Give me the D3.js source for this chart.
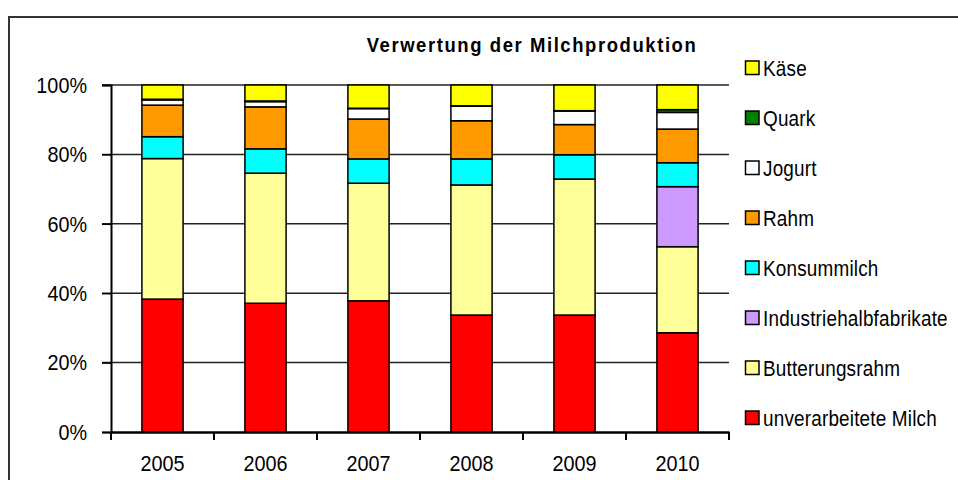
<!DOCTYPE html>
<html>
<head>
<meta charset="utf-8">
<script src="https://cdn.jsdelivr.net/npm/d3@7"></script>
<style>
    body { margin: 0; background: #fff; }
    text { font-family: "Liberation Sans", Arial, sans-serif; fill: #000; }
</style>
</head>
<body>
<div id="chart"></div>
<script>
// Years on the x axis
const years = ["2005", "2006", "2007", "2008", "2009", "2010"];

// Series, bottom of the stack first (share in %)
const seriesNames = ["unverarbeitete Milch", "Butterungsrahm", "Industriehalbfabrikate",
    "Konsummilch", "Rahm", "Jogurt", "Quark", "Käse"];
const unverarbeiteteMilch = [38.3, 37.1, 37.8, 33.7, 33.7, 28.6];
const butterungsrahm = [40.5, 37.5, 33.9, 37.5, 39.2, 24.8];
const industriehalbfabrikate = [0, 0, 0, 0, 0, 17.3];
const konsummilch = [6.3, 7.0, 7.0, 7.5, 7.0, 6.9];
const rahm = [9.1, 12.1, 11.5, 11.0, 8.7, 9.7];
const jogurt = [1.5, 1.5, 3.0, 4.2, 3.9, 4.8];
const quark = [0.2, 0.2, 0.1, 0.1, 0.1, 0.8];
const kaese = [4.1, 4.6, 6.7, 6.0, 7.4, 7.1];

const yTicks = [0, 0.2, 0.4, 0.6, 0.8, 1];

const colors = ["#ff0000", "#ffff99", "#cc99ff", "#00ffff", "#ff9900", "#ffffff", "#008000", "#ffff00"];

// Build rows for d3.stack
const allSeries = [unverarbeiteteMilch, butterungsrahm, industriehalbfabrikate,
    konsummilch, rahm, jogurt, quark, kaese];
const rows = years.map((y, i) => {
    const row = { year: y };
    seriesNames.forEach((s, j) => { row[s] = allSeries[j][i]; });
    return row;
});

const width = 958;
const height = 480;
const margin = { top: 85, left: 111, right: 229, bottom: 48 };

// the original text is narrow and tall, squeeze it a little
const squeeze = 0.88;
function narrow(sel) {
    sel.each(function () {
        const t = d3.select(this);
        const tx = +t.attr("x") || 0;
        const ty = +t.attr("y") || 0;
        t.attr("x", 0).attr("y", 0)
            .attr("transform", `translate(${tx},${ty}) scale(${squeeze},1)`);
    });
}

const svg = d3.select("#chart").append("svg")
    .attr("width", width)
    .attr("height", height);

// Outer frame
svg.append("rect")
    .attr("x", 9)
    .attr("y", 17)
    .attr("width", width)
    .attr("height", height)
    .attr("fill", "none")
    .attr("stroke", "#333")
    .attr("stroke-width", 2);

const x = d3.scaleBand()
    .domain(years)
    .range([margin.left, width - margin.right])
    .paddingInner(0.6)
    .paddingOuter(0.3);

// band edges for ticks (no padding)
const xEdges = d3.scaleBand()
    .domain(years)
    .range([margin.left, width - margin.right]);

const y = d3.scaleLinear()
    .domain([0, 1])
    .range([height - margin.bottom, margin.top]);

const stack = d3.stack()
    .keys(seriesNames)
    .offset(d3.stackOffsetExpand);
const stacked = stack(rows);

// Gridlines
svg.append("g")
    .selectAll("line")
    .data(yTicks.filter(d => d > 0))
    .enter()
    .append("line")
    .attr("x1", margin.left - 9)
    .attr("x2", width - margin.right)
    .attr("y1", d => y(d))
    .attr("y2", d => y(d))
    .attr("stroke", "#222")
    .attr("stroke-width", 1.5);

// Y axis
const yAxis = svg.append("g")
    .attr("transform", `translate(${margin.left},0)`)
    .call(d3.axisLeft(y).tickValues(yTicks).tickFormat(d3.format(".0%")).tickSize(9).tickPadding(15));
yAxis.select(".domain").attr("stroke", "#000").attr("stroke-width", 2);
yAxis.selectAll(".tick line").attr("stroke", "#000").attr("stroke-width", 1.5);
yAxis.selectAll("text")
    .style("font-size", "22.5px")
    .attr("fill", "#000")
    .call(narrow);

// Bars
svg.append("g")
    .selectAll("g")
    .data(stacked)
    .enter()
    .append("g")
    .attr("fill", (d, i) => colors[i])
    .selectAll("rect")
    .data(d => d.filter(v => v[1] - v[0] > 0))
    .enter()
    .append("rect")
    .attr("x", d => x(d.data.year))
    .attr("width", x.bandwidth())
    .attr("y", d => y(d[1]))
    .attr("height", d => y(d[0]) - y(d[1]))
    .attr("stroke", "#000")
    .attr("stroke-width", 1.5);

// X axis
const xAxis = svg.append("g")
    .attr("transform", `translate(0,${height - margin.bottom})`)
    .call(d3.axisBottom(xEdges).tickSize(0).tickPadding(23));
xAxis.select(".domain").attr("stroke", "#000").attr("stroke-width", 2.5);
xAxis.selectAll("text").style("font-size", "22.5px").call(narrow);

// tick marks at band edges
const edges = years.map(d => xEdges(d)).concat([width - margin.right]);
xAxis.selectAll(".edge")
    .data(edges)
    .enter()
    .append("line")
    .attr("class", "edge")
    .attr("x1", d => d)
    .attr("x2", d => d)
    .attr("y1", 0)
    .attr("y2", 8)
    .attr("stroke", "#000")
    .attr("stroke-width", 2);

// Title
svg.append("text")
    .attr("x", 532)
    .attr("y", 52)
    .attr("text-anchor", "middle")
    .style("font-size", "21px")
    .style("font-weight", "bold")
    .style("letter-spacing", "1.8px")
    .text("Verwertung der Milchproduktion")
    .call(narrow);

// Legend, top item is the top of the stack
const legendItems = seriesNames.map((s, i) => ({ name: s, color: colors[i] })).reverse();
const legend = svg.append("g")
    .selectAll("g")
    .data(legendItems)
    .enter()
    .append("g")
    .attr("transform", (d, i) => `translate(745,${68 + i * 50})`);

legend.append("rect")
    .attr("x", 0.5)
    .attr("y", -7)
    .attr("width", 13.5)
    .attr("height", 13.5)
    .attr("fill", d => d.color)
    .attr("stroke", "#000")
    .attr("stroke-width", 1.5);

legend.append("text")
    .attr("x", 18)
    .attr("y", 0)
    .attr("dy", "0.36em")
    .style("font-size", "21.5px")
    .style("letter-spacing", "0.2px")
    .text(d => d.name)
    .call(narrow);
</script>
</body>
</html>
